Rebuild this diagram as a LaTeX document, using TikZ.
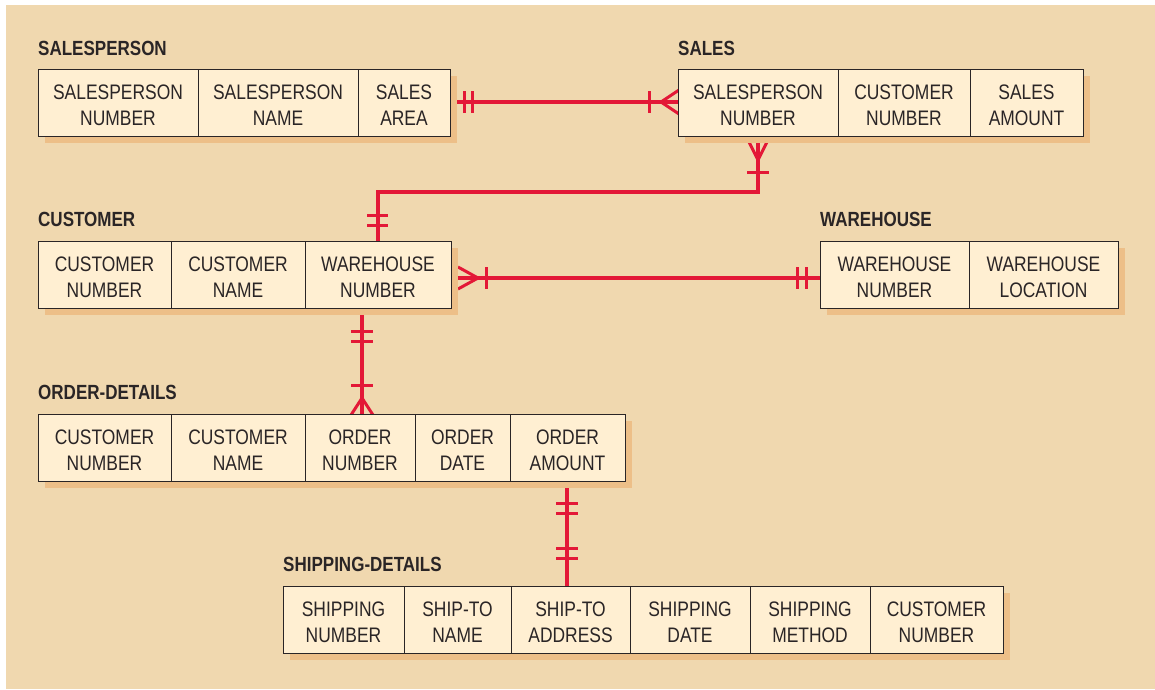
\documentclass[tikz,border=0pt]{standalone}
\usepackage{fontspec}
\setmainfont{Liberation Sans}[FakeStretch=0.83]
\usetikzlibrary{shadows}
\definecolor{bgc}{HTML}{F0D8AF}
\definecolor{boxc}{HTML}{FFEFD2}
\definecolor{shc}{HTML}{EDBF88}
\definecolor{redc}{HTML}{E31837}
\definecolor{txtc}{HTML}{2A2526}
\pgfdeclarelayer{bgl}
\pgfdeclarelayer{conn}
\pgfsetlayers{bgl,conn,main}
\begin{document}
\begin{tikzpicture}[x=1pt,y=-1pt,
  tbl/.style={draw=txtc, line width=1.2pt, fill=boxc, inner sep=0pt, anchor=north west,
    drop shadow={shadow xshift=6pt, shadow yshift=-6pt, fill=shc, opacity=1}},
  cell/.style={inner sep=0pt, align=center, text=txtc,
    font=\fontsize{21}{26}\selectfont},
  ttl/.style={anchor=base west, text=txtc, inner sep=0pt, font=\fontsize{20.5}{24}\selectfont\bfseries},
  dv/.style={draw=txtc, line width=1.2pt},
  rel/.style={draw=redc, line width=3.5pt},
  mk/.style={draw=redc, line width=3pt}]
\useasboundingbox (0,0) rectangle (1155,689);
\begin{pgfonlayer}{bgl}
\fill[white] (0,0) rectangle (1155,689);
\fill[bgc] (6,5) rectangle (1155,689);
\end{pgfonlayer}

% SALESPERSON
\node[ttl] (sp-t) at (38,55) {SALESPERSON};
\node[tbl, minimum width=412pt, minimum height=67pt] (sp) at (38,69) {};
\node[cell, minimum width=160pt] (sp-1) at (118,105.5) {SALESPERSON\\NUMBER};
\node[cell, minimum width=160pt] (sp-2) at (278,105.5) {SALESPERSON\\NAME};
\node[cell, minimum width=92pt] (sp-3) at (404,105.5) {SALES\\AREA};
\draw[dv] (sp-1.east |- sp.north) -- (sp-1.east |- sp.south)
  (sp-2.east |- sp.north) -- (sp-2.east |- sp.south);

% SALES
\node[ttl] (sa-t) at (678,55) {SALES};
\node[tbl, minimum width=405pt, minimum height=67pt] (sa) at (678,69) {};
\node[cell, minimum width=160pt] (sa-1) at (758,105.5) {SALESPERSON\\NUMBER};
\node[cell, minimum width=132pt] (sa-2) at (904,105.5) {CUSTOMER\\NUMBER};
\node[cell, minimum width=113pt] (sa-3) at (1026.5,105.5) {SALES\\AMOUNT};
\draw[dv] (sa-1.east |- sa.north) -- (sa-1.east |- sa.south)
  (sa-2.east |- sa.north) -- (sa-2.east |- sa.south);

% CUSTOMER
\node[ttl] (cu-t) at (38,226) {CUSTOMER};
\node[tbl, minimum width=413pt, minimum height=67pt] (cu) at (38,241) {};
\node[cell, minimum width=133pt] (cu-1) at (104.5,277.5) {CUSTOMER\\NUMBER};
\node[cell, minimum width=134pt] (cu-2) at (238,277.5) {CUSTOMER\\NAME};
\node[cell, minimum width=146pt] (cu-3) at (378,277.5) {WAREHOUSE\\NUMBER};
\draw[dv] (cu-1.east |- cu.north) -- (cu-1.east |- cu.south)
  (cu-2.east |- cu.north) -- (cu-2.east |- cu.south);

% WAREHOUSE
\node[ttl] (wh-t) at (820,226) {WAREHOUSE};
\node[tbl, minimum width=298pt, minimum height=67pt] (wh) at (820,241) {};
\node[cell, minimum width=149pt] (wh-1) at (894.5,277.5) {WAREHOUSE\\NUMBER};
\node[cell, minimum width=149pt] (wh-2) at (1043.5,277.5) {WAREHOUSE\\LOCATION};
\draw[dv] (wh-1.east |- wh.north) -- (wh-1.east |- wh.south);

% ORDER-DETAILS
\node[ttl] (od-t) at (38,399) {ORDER-DETAILS};
\node[tbl, minimum width=587pt, minimum height=67pt] (od) at (38,414) {};
\node[cell, minimum width=133pt] (od-1) at (104.5,450.5) {CUSTOMER\\NUMBER};
\node[cell, minimum width=134pt] (od-2) at (238,450.5) {CUSTOMER\\NAME};
\node[cell, minimum width=110pt] (od-3) at (360,450.5) {ORDER\\NUMBER};
\node[cell, minimum width=95pt] (od-4) at (462.5,450.5) {ORDER\\DATE};
\node[cell, minimum width=115pt] (od-5) at (567.5,450.5) {ORDER\\AMOUNT};
\draw[dv] (od-1.east |- od.north) -- (od-1.east |- od.south)
  (od-2.east |- od.north) -- (od-2.east |- od.south)
  (od-3.east |- od.north) -- (od-3.east |- od.south)
  (od-4.east |- od.north) -- (od-4.east |- od.south);

% SHIPPING-DETAILS
\node[ttl] (sh-t) at (283,571) {SHIPPING-DETAILS};
\node[tbl, minimum width=720pt, minimum height=67pt] (sh) at (283,586) {};
\node[cell, minimum width=121pt] (sh-1) at (343.5,622.5) {SHIPPING\\NUMBER};
\node[cell, minimum width=107pt] (sh-2) at (457.5,622.5) {SHIP-TO\\NAME};
\node[cell, minimum width=119pt] (sh-3) at (570.5,622.5) {SHIP-TO\\ADDRESS};
\node[cell, minimum width=120pt] (sh-4) at (690,622.5) {SHIPPING\\DATE};
\node[cell, minimum width=120pt] (sh-5) at (810,622.5) {SHIPPING\\METHOD};
\node[cell, minimum width=133pt] (sh-6) at (936.5,622.5) {CUSTOMER\\NUMBER};
\draw[dv] (sh-1.east |- sh.north) -- (sh-1.east |- sh.south)
  (sh-2.east |- sh.north) -- (sh-2.east |- sh.south)
  (sh-3.east |- sh.north) -- (sh-3.east |- sh.south)
  (sh-4.east |- sh.north) -- (sh-4.east |- sh.south)
  (sh-5.east |- sh.north) -- (sh-5.east |- sh.south);

% connectors
\coordinate (y102) at (0,102);
\coordinate (y192) at (0,192);
\coordinate (y278) at (0,278);
\coordinate (x362) at (362,0);
\coordinate (x567) at (567,0);
\begin{pgfonlayer}{conn}
% salesperson - sales
\draw[rel] (sp.east |- y102) -- (sa.west |- y102);
\draw[mk] (464,91) -- (464,113) (472,91) -- (472,113);
\draw[mk] (649,91) -- (649,113);
\draw[mk] (679,90) -- (661,102) -- (679,114);
% sales - customer
\draw[rel] (sa.south -| sa-1) -- (sa-1 |- y192) -| (cu.north -| cu-3);
\draw[mk] (748,140) -- (758,160) -- (768,140);
\draw[mk] (747,172) -- (769,172);
\draw[mk] (367,215) -- (388,215) (367,225) -- (388,225);
% customer - warehouse
\draw[rel] (cu.east |- y278) -- (wh.west |- y278);
\draw[mk] (458,267) -- (478,278) -- (458,289);
\draw[mk] (486,267) -- (486,289);
\draw[mk] (797,267) -- (797,289) (806,267) -- (806,289);
% customer - order-details
\draw[rel] (cu.south -| x362) -- (od.north -| x362);
\draw[mk] (351,331) -- (373,331) (351,341) -- (373,341);
\draw[mk] (351,385) -- (373,385);
\draw[mk] (351,415) -- (362,398) -- (373,415);
% order-details - shipping
\draw[rel] (od.south -| x567) -- (sh.north -| x567);
\draw[mk] (556,503) -- (578,503) (556,513) -- (578,513);
\draw[mk] (556,548) -- (578,548) (556,558) -- (578,558);
\end{pgfonlayer}
\end{tikzpicture}
\end{document}
